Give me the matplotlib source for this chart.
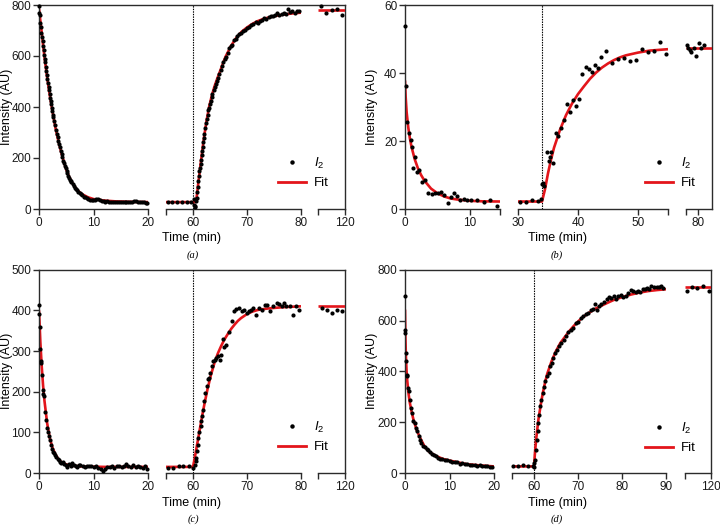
import numpy as np
import matplotlib
matplotlib.use("Agg")
import matplotlib.pyplot as plt
from matplotlib.lines import Line2D

plt.rcParams['font.family'] = ['Liberation Sans', 'DejaVu Sans']
plt.rcParams['mathtext.fontset'] = 'custom'
plt.rcParams['mathtext.it'] = 'Liberation Sans:italic'
plt.rcParams['mathtext.rm'] = 'Liberation Sans'

W, H = 720, 526
RED = '#e3151b'
AXC = '#2b2b2b'

# ---------------- panel (a) ----------------
a_time = [0.0, 0.05, 0.15, 0.25, 0.35, 0.45, 0.55, 0.65, 0.75, 0.85, 0.95, 1.05, 1.15, 1.25, 1.35,
          1.45, 1.55, 1.65, 1.75, 1.85, 1.95, 2.05, 2.15, 2.25, 2.35, 2.45, 2.55, 2.65,
          2.8, 2.95, 3.1, 3.25, 3.4, 3.55, 3.7, 3.85, 4.0, 4.15, 4.3, 4.45, 4.6, 4.75, 4.9, 5.05,
          5.2, 5.35, 5.5, 5.65, 5.8, 5.95, 6.15, 6.35, 6.55, 6.75, 6.95, 7.2, 7.45, 7.7, 7.95, 8.2,
          8.45, 8.75, 9.05, 9.35, 9.65, 9.95, 10.25, 10.55, 10.85, 11.15, 11.5, 11.85, 12.2, 12.55,
          12.9, 13.25, 13.6, 13.95, 14.3, 14.65, 15.0, 15.35, 15.7, 16.05, 16.4, 16.75, 17.1, 17.45,
          17.8, 18.15, 18.5, 18.85, 19.2, 19.55, 19.9,
          55.3, 56.1, 57.0, 57.9, 58.8, 59.6, 60.1, 60.2, 60.3,
          60.45, 60.6, 60.7, 60.8, 60.9, 61.0, 61.1, 61.2, 61.3, 61.4, 61.5, 61.6, 61.7, 61.8, 61.9,
          62.0, 62.1, 62.25, 62.4, 62.55, 62.7, 62.85, 63.0, 63.15, 63.3, 63.45, 63.6, 63.8, 64.0,
          64.2, 64.4, 64.6, 64.85, 65.1, 65.35, 65.6, 65.85, 66.1, 66.4, 66.7, 67.0, 67.3, 67.6,
          67.9, 68.2, 68.5, 68.8, 69.2, 69.6, 70.0, 70.4, 70.8, 71.2, 71.6, 72.0, 72.4, 72.8, 73.2,
          73.6, 74.0, 74.4, 74.8, 75.2, 75.6, 76.0, 76.4, 76.8, 77.2, 77.6, 78.0, 78.4, 78.8, 79.2,
          79.6,
          115.6, 116.5, 117.6, 118.5, 119.5]
a_intensity = [795, 770, 760, 730, 712, 690, 675, 660, 640, 622, 605, 590, 575, 556, 540,
               525, 508, 495, 480, 466, 450, 436, 422, 410, 398, 385, 370, 362,
               345, 328, 310, 295, 282, 268, 256, 242, 228, 216, 203, 190, 180, 170, 160, 150,
               140, 130, 122, 115, 108, 104, 97, 90, 84, 77, 73, 67, 62, 58, 53, 48,
               46, 42, 38, 36, 35, 34, 37, 40, 39, 35, 32, 31, 29, 30,
               28, 29, 28, 27, 28, 26, 27, 28, 27, 26, 28, 27, 29, 30,
               31, 29, 27, 26, 27, 25, 24,
               28, 27, 29, 28, 27, 29, 40, 15, 6,
               10, 30, 45, 65, 88, 110, 130, 148, 162, 178, 192, 210, 228, 245, 262,
               278, 295, 318, 338, 352, 370, 388, 398, 410, 425, 438, 450, 465, 480,
               490, 502, 515, 530, 545, 560, 575, 588, 598, 612, 630, 640, 645, 662,
               668, 678, 685, 690, 698, 702, 710, 715, 720, 725, 732, 730, 738, 742, 750,
               744, 752, 758, 755, 762, 768, 760, 765, 770, 764, 785, 772, 778, 768, 775,
               778,
               796, 770, 782, 784, 760]
a_fit_time = [0, 0.25, 0.5, 0.75, 1, 1.5, 2, 2.5, 3, 3.5, 4, 4.5, 5, 5.5, 6, 6.5, 7, 7.5, 8, 9,
              10, 12, 14, 17, 20, 55, 60.5, 60.7, 60.9, 61.2, 61.5, 62, 62.5, 63, 63.5, 64, 64.5,
              65, 66, 67, 68, 69, 70, 71, 72, 73, 74, 75, 76, 77, 78, 79, 80, 115, 120]
a_fit = [785, 738, 692, 643, 597, 515, 443, 380, 320, 272, 228, 190, 155, 128, 106, 89, 75, 65, 57, 46,
         39, 33, 30, 28, 27, 27, 27, 50, 88, 140, 192, 275, 345, 402, 446, 482, 512,
         540, 596, 638, 671, 695, 712, 726, 737, 745, 751, 756, 760, 763, 766, 768, 770, 780, 780]

# ---------------- panel (b) ----------------
b_time = [0.0, 0.1, 0.36, 0.6, 0.87, 1.08, 1.3, 1.5, 1.8, 2.1, 2.6, 3.1, 3.6, 4.1, 4.6, 5.1, 5.6,
          6.05, 6.6, 7.0, 7.5, 8.0, 8.5, 9.0, 9.5, 10.2, 11.1, 12.2, 13.1, 14.1,
          30.4, 31.4, 32.4, 33.4, 33.8,
          34.05, 34.2, 34.4, 34.8, 35.1, 35.3, 35.5, 35.8, 36.3, 36.7, 37.2, 37.7, 38.2, 38.7, 39.1,
          39.7, 40.2, 40.7, 41.3, 41.9, 42.4, 42.9, 43.4, 43.9, 44.6, 45.6, 46.6, 47.6, 48.6, 49.6,
          50.6, 51.6, 52.6, 53.6, 54.6,
          78.1, 78.4, 78.6, 78.9, 79.3, 79.7, 80.2, 80.5, 81.0]
b_intensity = [53.8, 36.2, 25.7, 22.3, 20.3, 18.1, 12.0, 15.2, 11.0, 11.5, 8.0, 8.5, 4.8, 4.4, 4.8,
               4.8, 5.1, 4.1, 1.9, 3.6, 4.6, 3.8, 2.6, 3.0, 2.6, 2.6, 2.6, 2.2, 2.6, 1.0,
               2.2, 2.2, 2.6, 2.5, 2.9,
               7.4, 7.7, 6.9, 16.9, 14.1, 15.4, 16.9, 13.6, 22.5, 21.5, 23.9, 26.2, 30.9, 28.6, 32.1,
               30.3, 32.3, 39.6, 41.7, 41.1, 40.4, 42.5, 41.4, 44.6, 46.5, 43.0, 44.1, 44.5, 43.6, 43.8,
               47.0, 46.1, 46.5, 49.2, 45.5,
               48.2, 47.3, 46.8, 46.3, 47.3, 45.0, 48.9, 47.5, 48.2]
b_fit_time = [0, 0.1, 0.25, 0.5, 0.75, 1, 1.5, 2, 2.5, 3, 4, 5, 6, 7, 8, 10, 12, 14.6, 30, 34.0,
              34.5, 35, 35.5, 36, 37, 38, 39, 40, 41, 42, 43, 44, 45, 46, 47, 48, 50, 52, 55, 78, 82.4]
b_fit = [37.8, 33.0, 28.5, 24.0, 20.8, 18.3, 14.6, 11.9, 9.9, 8.3, 6.0, 4.6, 3.7, 3.1, 2.8, 2.4, 2.25,
         2.2, 2.2, 2.2, 5.8, 10.5, 14.5, 18.0, 23.3, 27.6, 31.0, 33.8, 36.1, 38.3, 40.1, 41.6, 42.8,
         43.8, 44.6, 45.2, 46.0, 46.6, 47.0, 47.4, 47.4]

# ---------------- panel (c) ----------------
c_time = [0.0, 0.05, 0.15, 0.25, 0.35, 0.45, 0.55, 0.7, 0.8, 0.95, 1.15, 1.3, 1.45, 1.6, 1.75, 1.95,
          2.15, 2.35, 2.55, 2.75, 2.95, 3.15, 3.4, 3.6, 3.85, 4.1, 4.35, 4.6, 4.9, 5.2, 5.5, 5.8,
          6.1, 6.4, 6.7, 7.0, 7.3, 7.6, 8.0, 8.4, 8.8, 9.2, 9.6, 10.0, 10.4, 10.8, 11.3, 11.7, 12.1,
          12.5, 13.0, 13.4, 13.8, 14.3, 14.7, 15.2, 15.6, 16.0, 16.4, 16.9, 17.3, 17.8, 18.2, 18.6,
          19.0, 19.5, 19.9,
          55.4, 56.3, 57.4, 58.2, 59.3,
          60.0, 60.3, 60.5, 60.6, 60.8, 60.9, 61.0, 61.2, 61.4, 61.5, 61.7, 61.9, 62.1, 62.3, 62.5,
          62.7, 63.0, 63.2, 63.5, 63.7, 64.0, 64.3, 64.6, 65.0, 65.2, 65.5, 65.8, 66.1, 66.7, 67.2,
          67.6, 68.0, 68.5, 69.0, 69.5, 70.0, 70.3, 70.8, 71.2, 71.7, 72.2, 72.8, 73.4, 73.7, 74.3,
          74.9, 75.5, 76.0, 76.4, 76.9, 77.3, 77.9, 78.5, 79.0, 79.6,
          115.7, 116.6, 117.5, 118.5, 119.4]
c_intensity = [412, 390, 360, 305, 275, 270, 240, 205, 195, 190, 150, 130, 110, 100, 90, 80,
               70, 58, 52, 48, 45, 40, 35, 33, 28, 25, 26, 22, 20, 15, 22, 17,
               25, 20, 16, 15, 20, 19, 16, 14, 17, 18, 17, 15, 16, 12, 10, 6, 10,
               14, 15, 16, 13, 18, 17, 15, 18, 22, 18, 15, 20, 14, 18, 15,
               12, 16, 10,
               13, 13, 17, 17, 16,
               12, 20, 29, 37, 53, 70, 86, 102, 115, 127, 139, 156, 176, 197, 213,
               230, 234, 246, 262, 275, 279, 283, 287, 279, 291, 330, 311, 316, 348, 373,
               398, 403, 406, 398, 402, 393, 398, 402, 406, 389, 406, 402, 414, 414, 398,
               410, 418, 416, 411, 418, 410, 411, 389, 410, 402,
               407, 402, 393, 402, 398]
c_fit_time = [0, 0.1, 0.25, 0.5, 0.75, 1, 1.5, 2, 2.5, 3, 3.5, 4, 5, 6, 8, 12, 20, 55, 60.0, 60.3,
              60.6, 61.0, 61.4, 61.8, 62.2, 62.7, 63.3, 64.0, 64.6, 65.2, 65.8, 66.5, 67.1, 67.7,
              68.3, 68.9, 70.0, 71.0, 72.0, 73.5, 75.0, 77.0, 80.0, 115, 120]
c_fit = [400, 370, 322, 262, 215, 178, 122, 85, 61, 46, 35, 28, 21, 18, 16, 15, 15, 15, 15, 35,
         58, 88, 118, 148, 175, 207, 240, 272, 294, 312, 328, 343, 355, 365,
         374, 381, 391, 397, 401, 404, 406, 408, 410, 410, 410]

# ---------------- panel (d) ----------------
d_time = [0.0, 0.0, 0.02, 0.15, 0.2, 0.37, 0.5, 0.75, 0.9, 1.1, 1.35, 1.65, 1.9, 2.2, 2.5, 2.8, 3.1,
          3.4, 3.7, 4.1, 4.5, 4.9, 5.2, 5.6, 6.0, 6.5, 6.9, 7.5, 7.8, 8.4, 9.0, 9.5, 10.1, 10.6,
          11.2, 11.7, 12.3, 12.8, 13.4, 14.0, 14.6, 15.1, 15.7, 16.2, 16.8, 17.4, 17.9, 18.4, 19.0,
          19.6,
          55.2, 56.4, 57.5, 58.6, 59.8, 60.0, 60.1,
          60.3, 60.45, 60.6, 60.8, 60.9, 61.1, 61.4, 61.7, 62.0, 62.3, 62.6, 63.0, 63.3, 63.6, 64.0,
          64.3, 64.8, 65.2, 65.7, 66.2, 66.8, 67.2, 67.7, 68.3, 68.9, 69.5, 70.0, 70.6, 71.2, 71.8,
          72.3, 72.9, 73.4, 73.8, 74.4, 74.8, 75.3, 75.9, 76.5, 77.0, 77.5, 78.1, 78.6, 79.1, 79.7,
          80.3, 80.8, 81.4, 82.0, 82.6, 83.1, 83.7, 84.2, 84.7, 85.2, 85.7, 86.2, 86.7, 87.3, 87.9,
          88.4, 88.9, 89.4,
          114.55, 115.7, 116.8, 118.2, 119.5]
d_intensity = [695, 564, 551, 472, 439, 387, 380, 334, 321, 289, 256, 236, 203, 197, 177, 164, 144,
               131, 118, 108, 102, 94, 89, 81, 76, 72, 68, 59, 55, 55, 52, 50, 49, 45,
               42, 45, 37, 39, 35, 37, 33, 30, 33, 26, 31, 29, 26, 28, 24,
               24,
               26, 29, 33, 26, 29, 39, 24,
               52, 92, 131, 164, 197, 230, 262, 289, 315, 338, 361, 380, 393, 420, 433,
               452, 472, 485, 498, 511, 525, 540, 553, 564, 570, 590, 593, 610, 619, 627,
               630, 643, 645, 666, 643, 656, 666, 671, 685, 692, 689, 695, 685, 698, 702,
               692, 695, 708, 721, 715, 711, 717, 713, 724, 724, 729, 724, 734, 732, 732,
               732, 734, 728,
               715, 732, 728, 734, 715]
d_fit_time = [0, 0.1, 0.2, 0.37, 0.5, 0.75, 1.1, 1.5, 1.9, 2.6, 3.4, 4.5, 5.6, 7.1, 8.6, 10.8, 13.8,
              16.8, 20, 55, 60.0, 60.2, 60.5, 61, 61.5, 62, 62.5, 63, 64, 65, 66, 67, 68, 69, 70,
              71, 72, 74, 76, 78, 80, 82, 84, 86, 88, 90, 114, 120]
d_fit = [643, 530, 459, 395, 365, 318, 275, 240, 210, 170, 138, 101, 81, 66, 55, 46, 35,
         30, 26, 26, 26, 75, 135, 210, 265, 315, 355, 390, 440, 480, 512, 535, 558, 578, 596,
         612, 625, 647, 664, 680, 692, 702, 710, 716, 720, 723, 730, 730]


fig = plt.figure(figsize=(W / 100, H / 100), dpi=100)


def box(x0, x1, top, bottom):
    # pixel rectangle -> figure fraction
    return [x0 / W, 1 - bottom / H, (x1 - x0) / W, (bottom - top) / H]


def panel(time, inten, fit_t, fit_v, segs, top, bottom, ymax, ystep, dash_x, leg_xy):
    time = np.asarray(time, dtype=float)
    inten = np.asarray(inten, dtype=float)
    fit_t = np.asarray(fit_t, dtype=float)
    fit_v = np.asarray(fit_v, dtype=float)

    # outer frame (top + right lines only)
    frame = fig.add_axes(box(segs[0][0], segs[-1][1], top, bottom))
    frame.patch.set_visible(False)
    frame.spines['left'].set_visible(False)
    frame.spines['bottom'].set_visible(False)
    for s in ['top', 'right']:
        frame.spines[s].set_color(AXC)
        frame.spines[s].set_linewidth(1.0)
    frame.set_xticks([])
    frame.set_yticks([])

    for i, (x0, x1, lo, hi, ticks, labels) in enumerate(segs):
        ax = fig.add_axes(box(x0, x1, top, bottom))
        ax.patch.set_visible(False)
        m = (fit_t >= lo) & (fit_t <= hi)
        ax.plot(fit_t[m], fit_v[m], color=RED, lw=1.9, zorder=2, solid_capstyle='butt')
        m = (time >= lo) & (time <= hi)
        ax.plot(time[m], inten[m], 'o', color='black', ms=3.0, mew=0, zorder=3, clip_on=False)
        if lo <= dash_x <= hi:
            ax.axvline(dash_x, color='black', ls=(0, (1.3, 1.0)), lw=0.8, zorder=1)
        ax.set_xlim(lo, hi)
        ax.set_ylim(0, ymax)
        ax.spines['top'].set_visible(False)
        ax.spines['right'].set_visible(False)
        ax.spines['bottom'].set_color(AXC)
        ax.spines['bottom'].set_linewidth(1.0)
        ax.set_xticks(ticks)
        ax.set_xticklabels(labels)
        if i == 0:
            ax.set_yticks(np.arange(0, ymax + 1, ystep))
            ax.spines['left'].set_color(AXC)
            ax.spines['left'].set_linewidth(1.0)
        else:
            ax.spines['left'].set_visible(False)
            ax.set_yticks([])
        ax.tick_params(axis='x', direction='out', length=4, width=1.0, pad=2,
                       labelsize=8.5, color=AXC, labelcolor='#1a1a1a')
        ax.tick_params(axis='y', direction='out', length=4, width=1.0, pad=1.5,
                       labelsize=8.5, color=AXC, labelcolor='#1a1a1a')

    handles = [Line2D([], [], marker='o', ls='none', color='black', ms=3.2, mew=0),
               Line2D([], [], color=RED, lw=2)]
    fig.legend(handles, [r'$I_2$', 'Fit'], loc='upper left',
               bbox_to_anchor=(leg_xy[0] / W, 1 - leg_xy[1] / H),
               frameon=False, fontsize=9.5, handlelength=2.1, handletextpad=0.6,
               labelspacing=0.45, borderpad=0, borderaxespad=0, numpoints=1)


segs_ac = [(39, 148, 0, 20, [0, 10, 20], ['0', '10', '20']),
           (166, 301, 55, 80, [55, 60, 70, 80], ['', '60', '70', '80']),
           (318, 345, 115, 120, [115, 120], ['', '120'])]
segs_b = [(405, 500, 0, 14.6, [0, 10, 14.6], ['0', '10', '']),
          (518, 668, 30, 55, [30, 40, 50, 55], ['30', '40', '50', '']),
          (686, 712, 78, 82.4, [78, 80], ['', '80'])]
segs_d = [(405, 494, 0, 20, [0, 10, 20], ['0', '10', '20']),
          (512, 666, 55, 90, [55, 60, 70, 80, 90], ['', '60', '70', '80', '90']),
          (685, 711, 114, 120, [114, 120], ['', '120'])]

panel(a_time, a_intensity, a_fit_time, a_fit, segs_ac, 5, 209, 800, 200, 60, (278, 156))
panel(b_time, b_intensity, b_fit_time, b_fit, segs_b, 5, 209, 60, 20, 34, (645, 156))
panel(c_time, c_intensity, c_fit_time, c_fit, segs_ac, 269.7, 473, 500, 100, 60, (278, 420))
panel(d_time, d_intensity, d_fit_time, d_fit, segs_d, 269.7, 473, 800, 200, 60, (645, 421))

# axis titles and panel captions
for x, y in [(7, 107), (372, 107), (7, 371), (372, 371)]:
    fig.text(x / W, 1 - y / H, 'Intensity (AU)', rotation=90, ha='center', va='center', fontsize=9)
for x, y in [(192, 238), (558, 238), (192, 503), (558, 503)]:
    fig.text(x / W, 1 - y / H, 'Time (min)', ha='center', va='center', fontsize=9)
for x, y, tag in [(193, 255, '(a)'), (557, 255, '(b)'), (193, 519, '(c)'), (557, 519, '(d)')]:
    fig.text(x / W, 1 - y / H, tag, ha='center', va='center', fontsize=7.5,
             family='Liberation Serif', style='italic')

fig.savefig('out.png', dpi=100)
